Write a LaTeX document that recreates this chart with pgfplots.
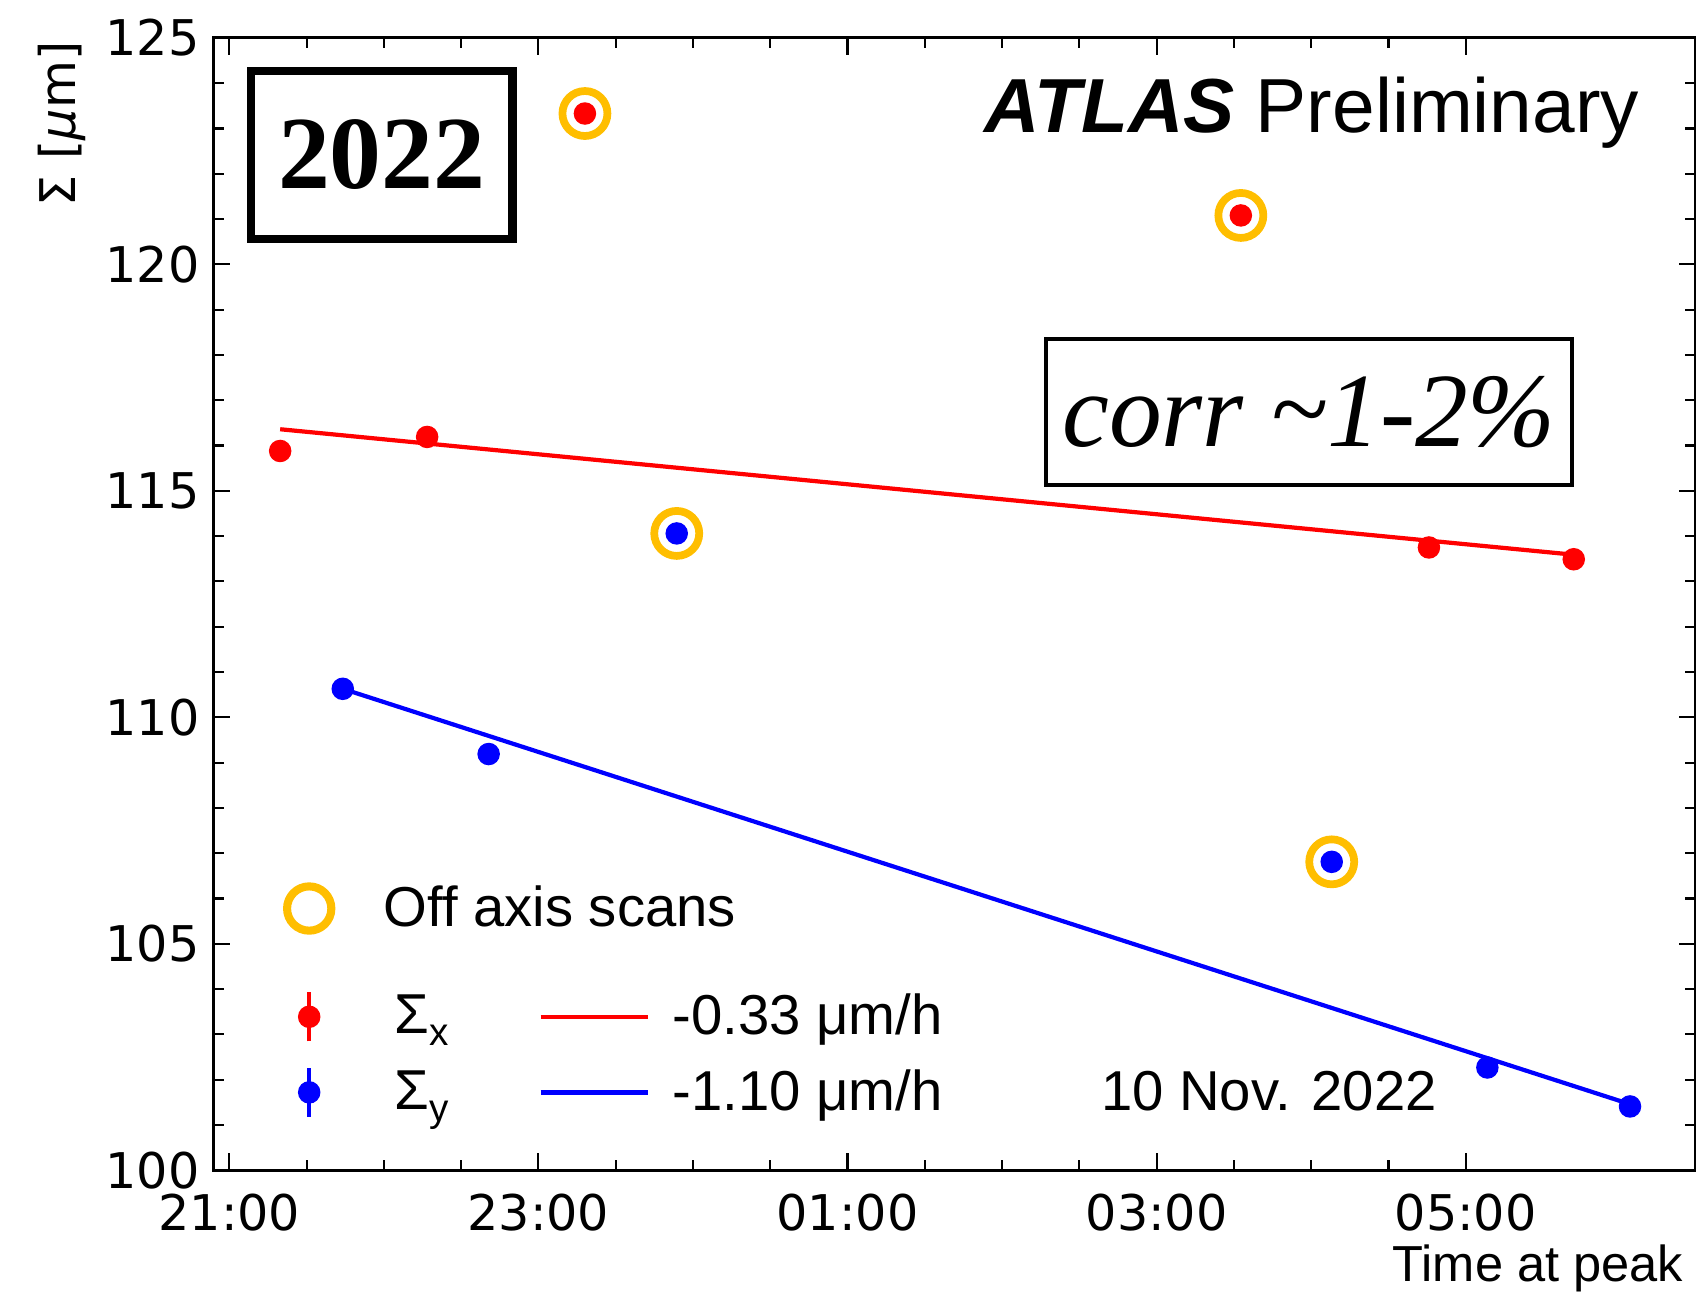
\documentclass[border=0pt]{standalone}
\usepackage{fontspec}
\setmainfont{Liberation Sans}
\newfontfamily\dejavu{DejaVu Sans}
\newfontfamily\serifb{Liberation Serif}
\usepackage{pgfplots}
\pgfplotsset{compat=1.18}
\definecolor{ringorange}{RGB}{255,190,0}

\pgfplotsset{
  commonaxis/.style={
    at={(0pt,0pt)}, anchor=south west, scale only axis,
    width=421.86pt, height=322.16pt,
    xmin=20.895, xmax=30.49, ymin=100, ymax=125,
  },
  mylegend/.style={
    draw=none, fill=none, inner sep=0pt, outer sep=0pt,
    row sep=5.5pt, column sep=0pt,
    nodes={inner sep=0pt},
    font=\fontsize{16}{16}\selectfont,
    anchor=north west,
  },
}

\begin{document}
\begin{tikzpicture}
\useasboundingbox (-60.62pt,-35.39pt) rectangle (421.86pt,332.94pt);
\begin{axis}[commonaxis, name=ax,
  clip=false,
  axis line style={line width=0.9pt},
  tick align=inside, tick style={black, line width=0.6pt},
  major tick length=4.8pt, minor tick length=3pt,
  xtick={21,23,25,27,29}, xticklabels={21:00,23:00,01:00,03:00,05:00},
  minor x tick num=3,
  ytick={100,105,110,115,120,125}, yticklabels={100,105,110,115,120,125},
  minor y tick num=4,
  tick label style={font=\dejavu\fontsize{14}{14}\selectfont},
  xticklabel style={inner sep=0pt, anchor=north, yshift=-6.5pt},
  yticklabel style={inner sep=0pt, anchor=east, xshift=-3.7pt},
  legend columns=2,
  legend style={mylegend, at={(axis cs:21.335,104.01)}},
]
% linear fits
\addplot[forget plot, red, line width=1.2pt] coordinates {(21.329,116.36) (29.699,113.59)};
\addplot[forget plot, blue, line width=1.2pt] coordinates {(21.734,110.63) (30.063,101.46)};
% off axis scans
\addplot[forget plot, only marks, mark=o, mark size=6.4pt,
  mark options={draw=ringorange, line width=2.2pt, fill=white}]
  coordinates {(23.301,123.33) (27.545,121.08) (23.895,114.06) (28.133,106.81)};
% Sigma_x
\addplot[forget plot, only marks, mark=*, mark size=3pt, red, mark options={draw=red, fill=red}]
  coordinates {(21.329,115.88) (22.280,116.19) (23.301,123.33) (27.545,121.08) (28.762,113.75) (29.699,113.49)};
% Sigma_y
\addplot[forget plot, only marks, mark=*, mark size=3pt, blue, mark options={draw=blue, fill=blue}]
  coordinates {(21.734,110.63) (22.678,109.19) (23.895,114.06) (28.133,106.81) (29.140,102.27) (30.063,101.41)};

\addlegendimage{legend image code/.code={\path[draw=none,fill=none] (-8pt,-8pt) rectangle (24.3pt,8pt); \draw[red,line width=1.2pt] (0pt,-7pt)--(0pt,7pt); \fill[red] (0pt,0pt) circle[radius=3pt];}}
\addlegendentry{\makebox[40.9pt][l]{Σ\raisebox{-3.5pt}{\fontsize{11}{11}\selectfont x}}}
\addlegendimage{legend image code/.code={\path[draw=none,fill=none] (0pt,-8pt) rectangle (36.6pt,8pt); \draw[red,line width=1.3pt] (0pt,0pt)--(30.5pt,0pt);}}
\addlegendentry{-0.33 μm/h}
\addlegendimage{legend image code/.code={\path[draw=none,fill=none] (-8pt,-8pt) rectangle (24.3pt,8pt); \draw[blue,line width=1.2pt] (0pt,-7pt)--(0pt,7pt); \fill[blue] (0pt,0pt) circle[radius=3pt];}}
\addlegendentry{\makebox[40.9pt][l]{Σ\raisebox{-3.5pt}{\fontsize{11}{11}\selectfont y}}}
\addlegendimage{legend image code/.code={\path[draw=none,fill=none] (0pt,-8pt) rectangle (37.5pt,8pt); \draw[blue,line width=1.3pt] (0pt,0pt)--(30.5pt,0pt);}}
\addlegendentry{-1.10 μm/h}

% annotations
\node[draw=black, line width=2.4pt, inner sep=0pt, minimum width=74.5pt, minimum height=47.8pt,
  font=\serifb\bfseries\fontsize{29.5}{30}\selectfont] at (axis cs:21.986,122.42) {2022};
\node[draw=black, line width=1pt, inner sep=0pt, minimum width=149.5pt, minimum height=41.5pt,
  font=\serifb\itshape\fontsize{30}{30}\selectfont] at (axis cs:27.986,116.74) {corr \raisebox{0.5pt}{\char"007E}1-2\%};
\node[anchor=base east, inner sep=0pt, font=\fontsize{21.8}{22}\selectfont] at (axis cs:30.126,122.92)
  {\textbf{\textit{ATLAS}} Preliminary};
\node[anchor=base west, inner sep=0pt, font=\fontsize{16}{16}\selectfont] at (axis cs:26.636,101.31) {10 Nov. 2022};
\end{axis}

\begin{axis}[commonaxis, hide axis,
  legend style={mylegend, at={(axis cs:21.335,106.40)}},
]
\addlegendimage{legend image code/.code={\path[draw=none,fill=none] (-8pt,-8pt) rectangle (21.2pt,8pt); \draw[ringorange,line width=2.3pt] (0pt,0pt)circle[radius=6.3pt];}}
\addlegendentry{Off axis scans}
\end{axis}

\node[anchor=base east, inner sep=0pt, font=\fontsize{14.4}{15}\selectfont] at ([xshift=-3.4pt,yshift=-31.7pt]ax.south east) {Time at peak};
\node[rotate=90, anchor=base east, inner sep=0pt, font=\dejavu\fontsize{14}{14}\selectfont] at ([xshift=-39.1pt,yshift=-0.9pt]ax.north west) {Σ [{\itshape μ}m]};
\end{tikzpicture}
\end{document}
